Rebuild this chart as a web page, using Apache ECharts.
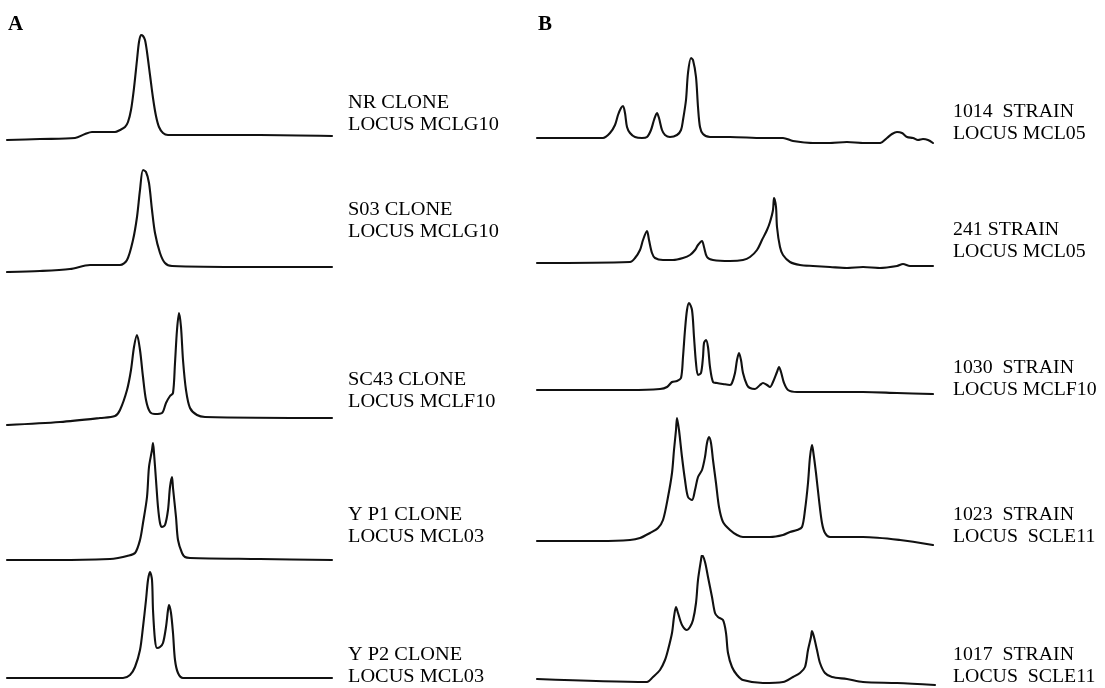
<!DOCTYPE html>
<html><head><meta charset="utf-8">
<script src="https://cdn.jsdelivr.net/npm/echarts@6/dist/echarts.min.js"></script>
<style>html,body{margin:0;padding:0;background:#fff}#c{width:1105px;height:688px}</style>
</head><body><div id="c"></div>
<script>
// ---- Data: [scan position, signal] ----
const nrClone = [[7,1],[40,2],[75,3],[85,7],[92,9],[115,9],[120,11],[125,14],[128,19],[131,31],[134,53],[137,81],[139,99],[141,106],[143,105],[145,101],[147,89],[150,66],[153,43],[156,25],[159,14],[163,8],[168,6],[200,6],[260,6],[332,5]];
const s03Clone = [[7,0],[40,1],[70,3],[90,7],[120,7],[127,12],[133,32],[137,55],[140,82],[143,102],[146,100],[149,89],[152,62],[155,39],[160,19],[165,9],[172,6],[250,5],[332,5]];
const sc43Clone = [[7,0],[60,3],[100,7],[115,9],[120,15],[127,35],[131,55],[134,78],[137,90],[140,75],[143,48],[146,25],[150,13],[155,11],[162,12],[166,22],[170,29],[173,32],[175,62],[177,95],[179,112],[181,98],[183,65],[186,35],[190,17],[197,10],[205,8],[332,7]];
const yp1Clone = [[7,1],[60,1],[110,2],[118,3],[127,5],[135,8],[140,21],[143,38],[147,64],[149,94],[152,111],[153,118],[154,108],[156,81],[158,54],[160,38],[162,34],[165,36],[168,51],[170,74],[172,84],[173,73],[176,44],[178,21],[182,8],[185,4],[190,3],[260,2],[332,1]];
const yp2Clone = [[7,1],[80,1],[123,1],[130,4],[135,12],[140,29],[143,52],[146,79],[148,99],[150,107],[152,99],[153,69],[155,39],[157,31],[160,32],[163,36],[166,52],[168,69],[169,74],[171,66],[173,46],[175,19],[178,6],[183,1],[260,1],[332,1]];

const strain1014 = [[7,5],[73,5],[80,10],[85,18],[88,28],[91,35],[93,37],[95,30],[97,16],[100,10],[105,6],[112,5],[117,6],[121,13],[124,23],[127,30],[129,25],[132,13],[135,8],[140,6],[147,8],[151,13],[153,23],[156,43],[158,70],[161,85],[163,83],[166,66],[168,36],[170,16],[173,9],[180,6],[200,6],[233,5],[253,5],[263,2],[283,0],[300,0],[317,1],[333,0],[350,0],[357,5],[362,9],[367,11],[372,10],[377,6],[383,5],[388,3],[393,4],[398,3],[403,0]];
const strain241 = [[7,5],[100,6],[105,10],[110,18],[113,28],[117,37],[119,28],[122,15],[125,10],[133,8],[143,8],[153,10],[160,13],[165,18],[168,23],[172,27],[174,21],[177,11],[183,8],[200,7],[213,8],[220,11],[227,18],[232,28],[237,38],[240,46],[243,58],[244,70],[246,61],[247,41],[250,21],[253,13],[260,6],[270,3],[283,2],[300,1],[317,0],[333,1],[350,0],[367,2],[373,4],[380,2],[403,2]];
const strain1030 = [[7,4],[100,4],[130,5],[137,7],[142,12],[147,13],[151,16],[153,37],[155,64],[157,84],[159,91],[162,84],[164,57],[166,31],[168,19],[171,21],[173,37],[174,51],[176,54],[178,47],[180,27],[183,12],[187,11],[193,10],[200,9],[202,11],[205,21],[207,34],[209,41],[211,34],[213,21],[217,9],[220,6],[225,5],[230,9],[233,11],[237,9],[240,7],[243,12],[247,22],[249,27],[251,22],[254,11],[258,4],[267,2],[300,2],[333,2],[367,1],[403,0]];
const strain1023 = [[7,4],[70,4],[100,5],[110,7],[120,12],[128,17],[133,25],[138,48],[142,72],[144,95],[146,115],[147,127],[149,115],[152,88],[155,65],[158,48],[162,45],[165,55],[168,68],[172,75],[175,88],[177,102],[179,108],[181,102],[183,85],[186,62],[189,38],[193,23],[200,15],[207,10],[213,8],[240,8],[253,10],[260,13],[267,15],[272,18],[275,35],[278,62],[280,88],[282,100],[283,95],[286,72],[289,45],[292,22],[295,12],[300,8],[333,8],[370,5],[403,0]];
const strain1017 = [[7,7],[117,4],[123,9],[130,16],[135,26],[138,36],[142,53],[144,69],[146,79],[148,73],[152,61],[157,56],[160,59],[163,66],[166,83],[168,106],[171,126],[172,131],[175,124],[178,109],[182,89],[185,73],[188,69],[193,66],[196,53],[198,33],[202,19],[207,11],[213,6],[233,3],[253,4],[263,9],[270,13],[275,19],[278,36],[281,49],[282,55],[284,49],[287,36],[290,23],[295,13],[302,9],[317,7],[333,4],[367,3],[405,1]];

const leftLabels = ['NR CLONE\nLOCUS MCLG10','S03 CLONE\nLOCUS MCLG10','SC43 CLONE\nLOCUS MCLF10','Y P1 CLONE\nLOCUS MCL03','Y P2 CLONE\nLOCUS MCL03'];
const rightLabels = ['1014  STRAIN\nLOCUS MCL05','241 STRAIN\nLOCUS MCL05','1030  STRAIN\nLOCUS MCLF10','1023  STRAIN\nLOCUS  SCLE11','1017  STRAIN\nLOCUS  SCLE11'];
const panelLetters = ['A','B'];

// ---- Layout ----
const leftTraces = [nrClone, s03Clone, sc43Clone, yp1Clone, yp2Clone];
const rightTraces = [strain1014, strain241, strain1030, strain1023, strain1017];
const leftBase = [141, 272, 425, 561, 679];
const rightBase = [143, 268, 394, 545, 686];
const leftLabelTop = [92, 199, 369, 504, 644];
const rightLabelTop = [101, 219, 357, 504, 644];
const H = 130;

const grids = [], xAxes = [], yAxes = [], series = [];
function addTrace(data, left, width, base, xmax){
  const i = grids.length;
  grids.push({left: left, top: base - H, width: width, height: H, containLabel:false});
  xAxes.push({type:'value', gridIndex:i, min:0, max:xmax, show:false});
  yAxes.push({type:'value', gridIndex:i, min:0, max:H, show:false});
  series.push({type:'line', xAxisIndex:i, yAxisIndex:i, data:data, smooth:0.3, symbol:'none',
    lineStyle:{color:'#111', width:2.1, join:'round', cap:'round'}, silent:true, animation:false});
}
leftTraces.forEach((d,k)=>addTrace(d, 0, 340, leftBase[k], 340));
rightTraces.forEach((d,k)=>addTrace(d, 530, 420, rightBase[k], 420));

const graphics = [];
const lblFont = '18px "Liberation Serif", "Times New Roman", serif';
leftLabels.forEach((t,k)=>graphics.push({type:'text', x:348, y:leftLabelTop[k], scaleX:1.13,
  style:{text:t, font:lblFont, lineHeight:22, fill:'#000', align:'left', verticalAlign:'top'}}));
rightLabels.forEach((t,k)=>graphics.push({type:'text', x:953, y:rightLabelTop[k], scaleX:1.1,
  style:{text:t, font:lblFont, lineHeight:22, fill:'#000', align:'left', verticalAlign:'top'}}));
[[8,panelLetters[0]],[538,panelLetters[1]]].forEach(p=>graphics.push({type:'text', x:p[0], y:14,
  style:{text:p[1], font:'bold 21px "Liberation Serif", serif', fill:'#000', align:'left', verticalAlign:'top'}}));

const chart = echarts.init(document.getElementById('c'), null, {renderer:'canvas'});
chart.setOption({
  animation:false,
  backgroundColor:'#fff',
  grid: grids, xAxis: xAxes, yAxis: yAxes, series: series,
  graphic: graphics
});
</script></body></html>
